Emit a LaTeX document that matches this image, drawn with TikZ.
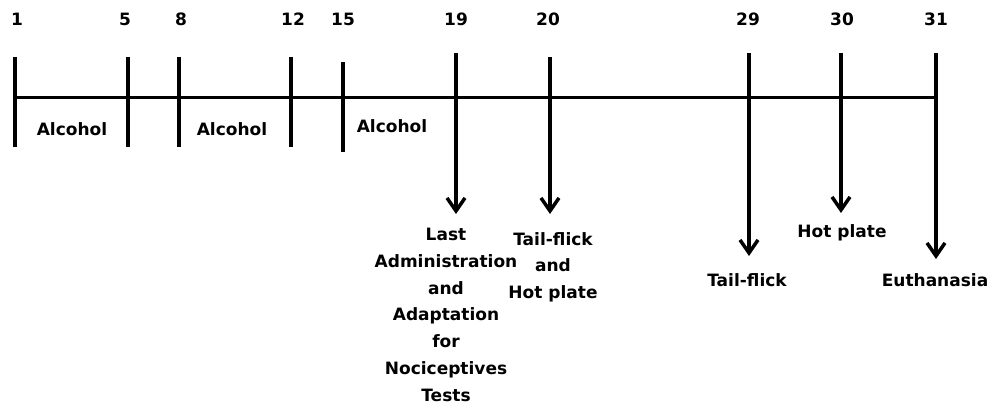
\documentclass[tikz,border=0pt]{standalone}
\usepackage{fontspec}
\setmainfont{DejaVu Sans}
\usetikzlibrary{arrows.meta}
\begin{document}
\begin{tikzpicture}[x=1pt,y=-1pt,
  axis/.style={line width=3.5pt},
  tick/.style={line width=3.5pt},
  evt/.style={line width=3.5pt,-{Straight Barb[length=13pt,width=18pt,line width=3.5pt]}},
  num/.style={anchor=base,inner sep=0pt,font=\fontsize{17}{20}\selectfont\bfseries},
  lab/.style={anchor=base,inner sep=0pt,font=\fontsize{17}{20}\selectfont\bfseries},
  evlab/.style={anchor=north,inner sep=0pt,align=center,font=\fontsize{17}{26.8}\selectfont\bfseries}]
\useasboundingbox (0,0) rectangle (992,414);
% main timeline
\coordinate (L) at (15,97.5);
\coordinate (R) at (936,97.5);
\draw[axis] (L) -- (R);
% plain ticks
\coordinate (t1a) at (15,57);  \coordinate (t1b) at (15,147);
\coordinate (t5a) at (128,57); \coordinate (t5b) at (128,147);
\coordinate (t8a) at (179,57); \coordinate (t8b) at (179,147);
\coordinate (t12a) at (291,57); \coordinate (t12b) at (291,147);
\coordinate (t15a) at (343,62); \coordinate (t15b) at (343,152);
\draw[tick] (t1a) -- (t1b);
\draw[tick] (t5a) -- (t5b);
\draw[tick] (t8a) -- (t8b);
\draw[tick] (t12a) -- (t12b);
\draw[tick] (t15a) -- (t15b);
% day numbers
\node[num] (n1) at (17,26) {1};
\node[num] (n5) at (125,26) {5};
\node[num] (n8) at (181,26) {8};
\node[num] (n12) at (293,26) {12};
\node[num] (n15) at (343,26) {15};
\node[num] (n19) at (456,26) {19};
\node[num] (n20) at (548,26) {20};
\node[num] (n29) at (748,26) {29};
\node[num] (n30) at (842,26) {30};
\node[num] (n31) at (936,26) {31};
% alcohol labels
\node[lab] (a1) at (72,136) {Alcohol};
\node[lab] (a2) at (232,136) {Alcohol};
\node[lab] (a3) at (392,133) {Alcohol};
% event arrows
\coordinate (e19) at (456,53);
\coordinate (e20) at (550,57);
\coordinate (e29) at (749,53);
\coordinate (e30) at (841,53);
\coordinate (e31) at (936,53);
\node[evlab] (l19) at (446,228) {Last\\Administration\\and\\Adaptation\\for\\Nociceptives\\Tests};
\node[evlab] (l20) at (553,232) {Tail-flick\\and\\Hot plate};
\node[evlab] (l29) at (747,273) {Tail-flick};
\node[evlab] (l30) at (842,224) {Hot plate};
\node[evlab] (l31) at (935,273) {Euthanasia};
\draw[evt,shorten >=14pt] (e19) -- (e19 |- l19.north);
\draw[evt,shorten >=18pt] (e20) -- (e20 |- l20.north);
\draw[evt,shorten >=17pt] (e29) -- (e29 |- l29.north);
\draw[evt,shorten >=11pt] (e30) -- (e30 |- l30.north);
\draw[evt,shorten >=14pt] (e31) -- (e31 |- l31.north);
\end{tikzpicture}
\end{document}
